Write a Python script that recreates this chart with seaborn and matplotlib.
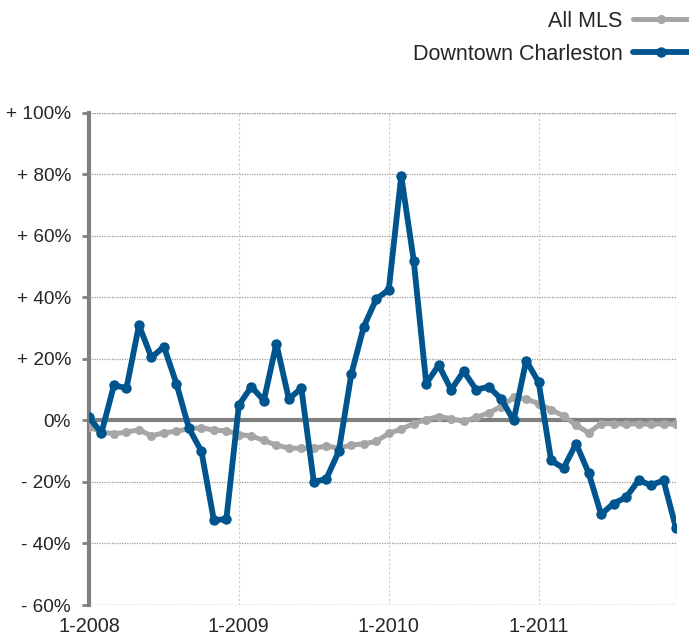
import matplotlib
matplotlib.use('Agg')
import matplotlib.pyplot as plt
import seaborn as sbn
import pandas as pd

# month index 0 = Jan 2008 ... 47 = Dec 2011
months = list(range(48))
year_ticks = [0, 12, 24, 36]
year_labels = ['1-2008', '1-2009', '1-2010', '1-2011']

downtown = [1, -4, 11.5, 10.5, 31, 20.5, 24, 12, -2.5, -10, -32.5, -32,
            5, 11, 6.5, 25, 7, 10.5, -20, -19, -10, 15, 30.5, 39.5,
            42.5, 79.5, 52, 12, 18, 10, 16, 10, 11, 7, 0, 19.5,
            12.5, -13, -15.5, -7.5, -17, -30.5, -27, -25, -19.5, -21, -19.5, -35]

all_mls = [-2, -3.8, -4.3, -3.8, -3, -5, -4, -3.5, -2.7, -2.3, -3.2, -3.3,
           -4.6, -5, -6.5, -8, -9, -9, -9, -8.3, -9, -8, -7.6, -6.8,
           -4.2, -2.8, -1, 0.3, 1.3, 0.6, -0.3, 1, 2.5, 4.5, 7.5, 7,
           5.5, 3.5, 1.5, -1.5, -4, -1, -1, -1.2, -1, -1.3, -1, -1.3]

y_ticks = [100, 80, 60, 40, 20, 0, -20, -40, -60]
y_labels = ['+ 100%', '+ 80%', '+ 60%', '+ 40%', '+ 20%', '0%', '- 20%', '- 40%', '- 60%']

sbn.set_style('white')
plt.rcParams['font.family'] = ['Liberation Sans', 'DejaVu Sans']

blue = '#00558f'
grey = '#a6a6a6'
axis_grey = '#808080'

fig = plt.figure(figsize=(6.89, 6.36), dpi=100)
ax = fig.add_axes([89 / 689, 1 - 605 / 636, 587 / 689, 492 / 636])

df = pd.DataFrame({'month': months, 'All MLS': all_mls, 'Downtown Charleston': downtown})

# gridlines
for y in y_ticks:
    if y == 0:
        continue
    ax.axhline(y, color='#999999', linestyle=(0, (1, 1)), linewidth=0.9, zorder=1)
for x in year_ticks[1:]:
    ax.axvline(x, color='#cccccc', linestyle=(0, (2, 2)), linewidth=0.8, zorder=1)
ax.axvline(47, color='#999999', linestyle=(0, (1, 1)), linewidth=0.9, zorder=1)
ax.axhline(0, color=axis_grey, linewidth=3, zorder=2)

sbn.lineplot(data=df, x='month', y='All MLS', ax=ax, color=grey, linewidth=3.6,
             marker='o', markersize=6.5, markeredgewidth=0, label='All MLS', zorder=3)
sbn.lineplot(data=df, x='month', y='Downtown Charleston', ax=ax, color=blue, linewidth=4.2,
             marker='o', markersize=7.5, markeredgewidth=0, label='Downtown Charleston', zorder=4)

ax.set_xlim(0, 47)
ax.set_ylim(-60, 100)
ax.set_yticks(y_ticks)
ax.set_yticklabels(y_labels)
ax.set_xticks(year_ticks)
ax.set_xticklabels(year_labels)
ax.set_xlabel('')
ax.set_ylabel('')
ax.tick_params(axis='y', length=5, width=2, color=axis_grey, labelsize=13.7, pad=8, left=True)
ax.tick_params(axis='x', length=0, labelsize=14.3, pad=9)

for side in ['top', 'right', 'bottom']:
    ax.spines[side].set_visible(False)
ax.spines['left'].set_color(axis_grey)
ax.spines['left'].set_linewidth(3)
ax.axhline(100, color='#999999', linestyle=(0, (1, 1)), linewidth=0.9, zorder=1)
ax.axhline(-60, color='#999999', linestyle=(0, (1, 1)), linewidth=0.9, zorder=1)

ax.legend(loc='upper right', bbox_to_anchor=(1.0 + 13 / 587, 1 + 102 / 492), frameon=False,
          markerfirst=False, fontsize=15.5, handlelength=2.6, handletextpad=0.5,
          labelspacing=0.55, borderaxespad=0, borderpad=0)

fig.savefig('out.png', dpi=100)
